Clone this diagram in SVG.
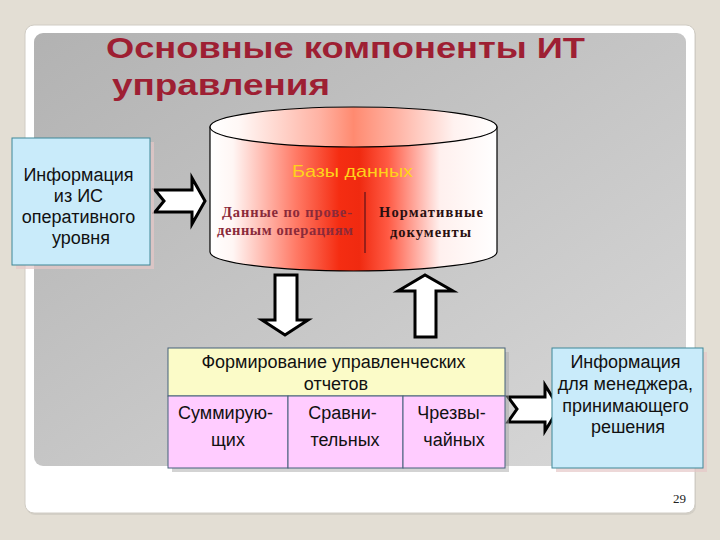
<svg xmlns="http://www.w3.org/2000/svg" width="720" height="540" viewBox="0 0 720 540">
<defs>
<linearGradient id="panel" x1="0" y1="0" x2="1" y2="1">
<stop offset="0" stop-color="#b2b2b2"/>
<stop offset="1" stop-color="#d9d9d9"/>
</linearGradient>
<linearGradient id="cylBody" x1="210" y1="0" x2="497" y2="0" gradientUnits="userSpaceOnUse">
<stop offset="0" stop-color="#ffffff"/>
<stop offset="0.08" stop-color="#fff6f4"/>
<stop offset="0.3" stop-color="#ff7a66"/>
<stop offset="0.45" stop-color="#f52d12"/>
<stop offset="0.52" stop-color="#f02a10"/>
<stop offset="0.62" stop-color="#ff5a44"/>
<stop offset="0.8" stop-color="#fff0ee"/>
<stop offset="1" stop-color="#ffffff"/>
</linearGradient>
<linearGradient id="cylTop" x1="210" y1="0" x2="497" y2="0" gradientUnits="userSpaceOnUse">
<stop offset="0" stop-color="#ffffff"/>
<stop offset="0.1" stop-color="#fff8f6"/>
<stop offset="0.38" stop-color="#ffb3a4"/>
<stop offset="0.5" stop-color="#ff8a70"/>
<stop offset="0.65" stop-color="#ffb3a4"/>
<stop offset="0.85" stop-color="#fff2f0"/>
<stop offset="1" stop-color="#ffffff"/>
</linearGradient>
<style>
.sans{font-family:"Liberation Sans",Arial,sans-serif;}
.serif{font-family:"Liberation Serif","Times New Roman",serif;}
.box{fill:#c9ebfa;stroke:#3f8797;stroke-width:1;}
.arrow{fill:#ffffff;stroke:#000000;stroke-width:3;stroke-linejoin:miter;}
.cell{stroke:#44607a;stroke-width:1;}
.t16{font-size:18px;fill:#111111;text-anchor:middle;}
</style>
</defs>
<rect x="0" y="0" width="720" height="540" fill="#e3ded4"/>
<rect x="26" y="27" width="670" height="488" rx="9" fill="#c8c4bc" opacity="0.6"/>
<rect x="25" y="25" width="670" height="488" rx="9" fill="#ffffff" stroke="#d0ccc4" stroke-width="1"/>
<rect x="34" y="33" width="652" height="433" rx="9" fill="url(#panel)"/>

<g id="title" class="sans" font-weight="bold" fill="#9e1f33">
<text x="106" y="58" font-size="30" textLength="479" lengthAdjust="spacingAndGlyphs">Основные компоненты ИТ</text>
<text x="112" y="95" font-size="30" textLength="218" lengthAdjust="spacingAndGlyphs">управления</text>
</g>

<g id="connectors">
<polygon class="arrow" points="155,190 192,190 192,178 205,201 192,224 192,212 155,212 164,201"/>
<polygon class="arrow" points="275,275 297,275 297,320 308,320 285,335 262,320 275,320"/>
<polygon class="arrow" points="415,337 436,337 436,291 453,291 425,275 398,291 415,291"/>
<polygon class="arrow" points="508,397 545,397 545,385 559,408 545,431 545,422 508,422 517,409"/>
</g>

<g id="cylinder">
<path d="M210,127 L210,252 A143.5,19 0 0 0 497,252 L497,127 Z" fill="url(#cylBody)" stroke="#000" stroke-width="1.2"/>
<ellipse cx="353.5" cy="127" rx="143.5" ry="20" fill="url(#cylTop)" stroke="#000" stroke-width="1.2"/>
<text x="292" y="177" class="sans" font-size="17" fill="#ffd21a" textLength="121" lengthAdjust="spacingAndGlyphs">Базы данных</text>
<line x1="365" y1="192" x2="365" y2="253" stroke="#7a1a1a" stroke-width="1.5"/>
<g class="serif" font-size="14.5" font-weight="bold" fill="#8a2a3a">
<text x="222" y="217" textLength="130" lengthAdjust="spacing">Данные по прове-</text>
<text x="217" y="235" textLength="136" lengthAdjust="spacing">денным операциям</text>
</g>
<g class="serif" font-size="14.5" font-weight="bold" fill="#2a1010">
<text x="379" y="217" textLength="104" lengthAdjust="spacing">Нормативные</text>
<text x="390" y="237" textLength="81" lengthAdjust="spacing">документы</text>
</g>
</g>

<g id="left-box">
<rect x="16" y="142" width="138" height="127" fill="#e6c8c8" opacity="0.7"/>
<rect class="box" x="12" y="138" width="138" height="127"/>
<text class="sans t16">
<tspan x="81" y="181">Информация</tspan>
<tspan x="81" y="202">из ИС</tspan>
<tspan x="81" y="223">оперативного</tspan>
<tspan x="81" y="244">уровня</tspan>
</text>
</g>

<g id="report">
<rect x="172" y="352" width="337" height="120" fill="#a8a8a8" opacity="0.5"/>
<rect class="cell" x="168" y="348" width="337" height="48" fill="#fbfbc8"/>
<rect class="cell" x="168" y="396" width="120" height="72" fill="#ffccff"/>
<rect class="cell" x="288" y="396" width="115" height="72" fill="#ffccff"/>
<rect class="cell" x="403" y="396" width="102" height="72" fill="#ffccff"/>
<text class="sans t16">
<tspan x="336" y="368">Формирование управленческих</tspan>
<tspan x="336" y="390">отчетов</tspan>
</text>
<text class="sans t16">
<tspan x="228" y="419">Суммирую-</tspan>
<tspan x="228" y="446">щих</tspan>
</text>
<text class="sans t16">
<tspan x="345" y="419">Сравни-</tspan>
<tspan x="345" y="446">тельных</tspan>
</text>
<text class="sans t16">
<tspan x="454" y="419">Чрезвы-</tspan>
<tspan x="454" y="446">чайных</tspan>
</text>
</g>

<g id="right-box">
<rect x="556" y="352" width="151" height="120" fill="#e6c8c8" opacity="0.7"/>
<rect class="box" x="552" y="348" width="151" height="120"/>
<text class="sans t16">
<tspan x="628" y="368">Информация</tspan>
<tspan x="628" y="390">для менеджера,</tspan>
<tspan x="628" y="412">принимающего</tspan>
<tspan x="628" y="433">решения</tspan>
</text>
</g>

<text x="686" y="503" class="serif" font-size="13" fill="#222" text-anchor="end">29</text>
</svg>
